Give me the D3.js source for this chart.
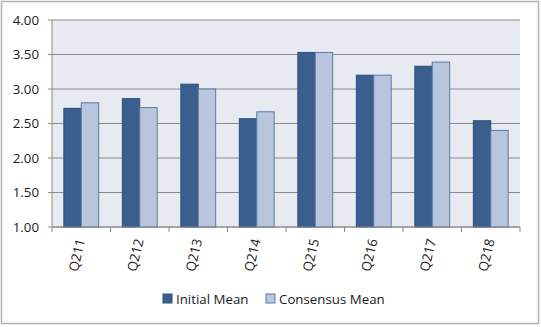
<!DOCTYPE html>
<html>
<head>
<meta charset="utf-8">
<script src="https://cdn.jsdelivr.net/npm/d3@7"></script>
<style>
body { margin: 0; background: #fff; }
svg { display: block; font-family: "Open Sans", "Liberation Sans", sans-serif; }
</style>
</head>
<body>
<div id="chart-area"></div>
<script>
var quarters = ["Q211", "Q212", "Q213", "Q214", "Q215", "Q216", "Q217", "Q218"];
var initialMean = [2.72, 2.86, 3.07, 2.57, 3.53, 3.20, 3.33, 2.54];
var consensusMean = [2.80, 2.73, 3.00, 2.67, 3.53, 3.20, 3.39, 2.40];
var seriesNames = ["Initial Mean", "Consensus Mean"];
var yTicks = [1.00, 1.50, 2.00, 2.50, 3.00, 3.50, 4.00];

var colors = ["#3a5f8e", "#b9c6de"];
var strokes = ["#2f4f78", "#5b79a6"];

var margin = {left: 52, right: 21, top: 20, bottom: 100};
var width = 541 - margin.left - margin.right,
	height = 327 - margin.top - margin.bottom;

var svg = d3.select("#chart-area")
	.append("svg")
		.attr("width", 541)
		.attr("height", 327);

// outer chart frame
svg.append("rect")
	.attr("x", 1.5).attr("y", 1.5)
	.attr("width", 537).attr("height", 322)
	.attr("fill", "#fff")
	.attr("stroke", "#b3b3b3")
	.attr("stroke-width", 1.5);

var g = svg.append("g")
	.attr("transform", "translate(" + margin.left + "," + margin.top + ")");

var x = d3.scaleBand()
	.domain(quarters)
	.range([0, width]);

var x1 = d3.scaleBand()
	.domain(seriesNames)
	.range([0, x.bandwidth()])
	.paddingInner(0)
	.paddingOuter(0.68);

var y = d3.scaleLinear()
	.domain([1, 4])
	.range([height, 0]);

g.append("rect")
	.attr("width", width)
	.attr("height", height)
	.attr("fill", "#e8eaf2");

g.selectAll(".grid")
	.data(yTicks)
	.enter()
	.append("line")
		.attr("class", "grid")
		.attr("x1", 0).attr("x2", width)
		.attr("y1", function(d){ return y(d); })
		.attr("y2", function(d){ return y(d); })
		.attr("stroke", "#8a8a8a")
		.attr("stroke-width", 1);

var data = quarters.map(function(q, i) {
	return {quarter: q, values: [initialMean[i], consensusMean[i]]};
});

var groups = g.selectAll(".grp")
	.data(data)
	.enter()
	.append("g")
		.attr("transform", function(d){ return "translate(" + x(d.quarter) + ",0)"; });

groups.selectAll("rect")
	.data(function(d){ return d.values.map(function(v, j){ return {name: seriesNames[j], value: v, j: j}; }); })
	.enter()
	.append("rect")
		.attr("x", function(d){ return x1(d.name); })
		.attr("y", function(d){ return y(d.value); })
		.attr("width", x1.bandwidth())
		.attr("height", function(d){ return height - y(d.value); })
		.attr("fill", function(d){ return colors[d.j]; })
		.attr("stroke", function(d){ return strokes[d.j]; })
		.attr("stroke-width", 1);

// x axis
var xAxis = g.append("g")
	.attr("transform", "translate(0," + height + ")");
xAxis.append("line")
	.attr("x1", 0).attr("x2", width)
	.attr("stroke", "#8a8a8a");
xAxis.selectAll(".tick")
	.data(d3.range(quarters.length + 1))
	.enter()
	.append("line")
		.attr("x1", function(d){ return d * x.step(); })
		.attr("x2", function(d){ return d * x.step(); })
		.attr("y1", 0).attr("y2", 5)
		.attr("stroke", "#8a8a8a");
xAxis.selectAll("text")
	.data(quarters)
	.enter()
	.append("text")
		.attr("transform", function(d){ return "translate(" + (x(d) + x.bandwidth() / 2 + 4) + ",13) rotate(-77)"; })
		.attr("text-anchor", "end")
		.attr("font-size", 13.3)
		.attr("fill", "#1a1a1a")
		.text(function(d){ return d; });

// y axis
var yAxis = g.append("g");
yAxis.append("line")
	.attr("y1", 0).attr("y2", height)
	.attr("stroke", "#8a8a8a");
yAxis.selectAll(".tick")
	.data(yTicks)
	.enter()
	.append("line")
		.attr("x1", -4).attr("x2", 0)
		.attr("y1", function(d){ return y(d); })
		.attr("y2", function(d){ return y(d); })
		.attr("stroke", "#8a8a8a");
yAxis.selectAll("text")
	.data(yTicks)
	.enter()
	.append("text")
		.attr("x", -13)
		.attr("y", function(d){ return y(d); })
		.attr("dy", "0.35em")
		.attr("text-anchor", "end")
		.attr("font-size", 13.3)
		.attr("fill", "#1a1a1a")
		.text(function(d){ return d3.format(".2f")(d); });

// legend
var legendX = [163, 266];
var legend = svg.selectAll(".legend")
	.data(seriesNames)
	.enter()
	.append("g")
		.attr("transform", function(d, i){ return "translate(" + legendX[i] + ",294)"; });
legend.append("rect")
	.attr("width", 9).attr("height", 9)
	.attr("fill", function(d, i){ return colors[i]; })
	.attr("stroke", function(d, i){ return strokes[i]; });
legend.append("text")
	.attr("x", 13)
	.attr("y", 5)
	.attr("dy", "0.35em")
	.attr("font-size", 13.3)
	.attr("fill", "#1a1a1a")
	.text(function(d){ return d; });
</script>
</body>
</html>
